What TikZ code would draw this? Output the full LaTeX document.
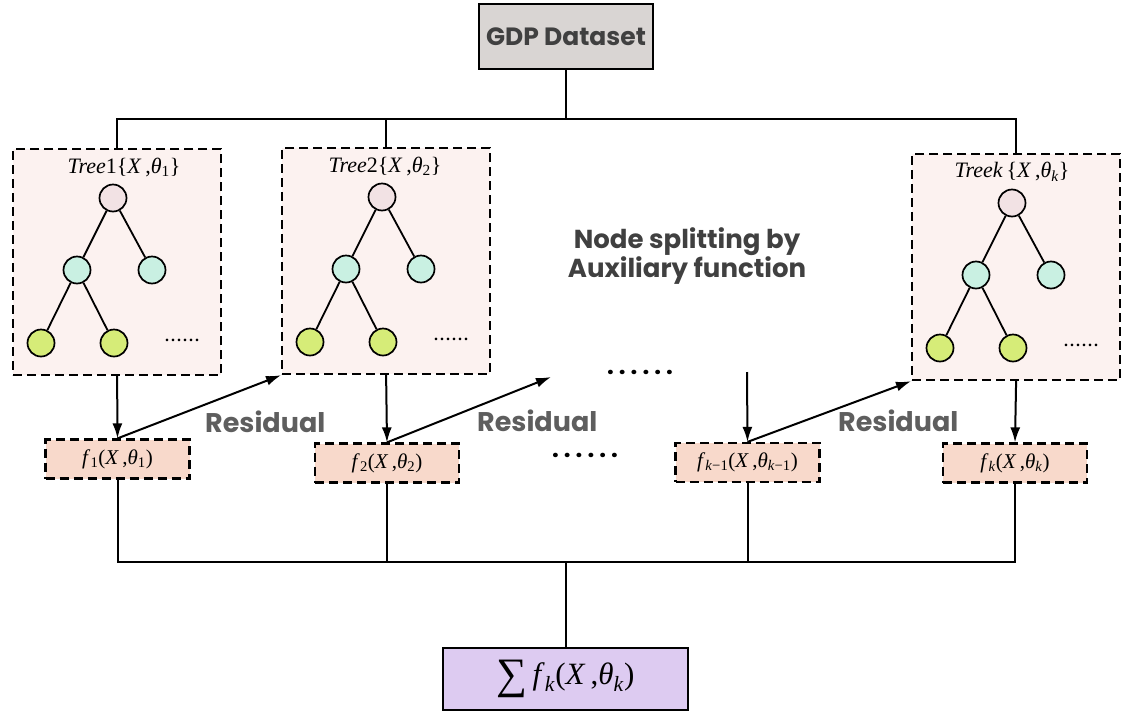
\documentclass[tikz,border=0pt]{standalone}
\usepackage{fontspec}
\setmainfont{Liberation Serif}
\newfontfamily\popfont{Poppins}
\usetikzlibrary{arrows.meta}

\definecolor{treefill}{HTML}{FCF2F0}
\definecolor{rootfill}{HTML}{F2E2E4}
\definecolor{midfill}{HTML}{C9F0E2}
\definecolor{leaffill}{HTML}{D6EC78}
\definecolor{ffill}{HTML}{F8D9CB}
\definecolor{sumfill}{HTML}{DDCBF1}
\definecolor{gdpfill}{HTML}{D9D5D3}
\definecolor{labelgray}{HTML}{5E5E5E}
\definecolor{darkgray}{HTML}{404040}

% subscript in the serif font
\newcommand\lowidx[1]{\textsubscript{#1}}
% a row of six spaced dots
\newcommand\sixdots[1]{.\kern#1.\kern#1.\kern#1.\kern#1.\kern#1.}

\tikzset{
  treebox/.style={draw, dash pattern=on 9pt off 5pt, line width=2.2pt,
    fill=treefill, minimum width=208pt, minimum height=226pt,
    inner sep=0pt, anchor=north west},
  fbox/.style={draw, dash pattern=on 9pt off 5pt, line width=2.2pt,
    fill=ffill, minimum width=144pt, minimum height=39pt, inner sep=0pt,
    font=\fontsize{21}{22}\selectfont},
  solidbox/.style={draw, line width=2pt, inner sep=0pt},
  tn/.style={circle, draw, line width=1.7pt, minimum size=27pt, inner sep=0pt},
  edge/.style={line width=1.8pt},
  link/.style={line width=2pt},
  arr/.style={line width=2pt, -{Latex[length=15pt,width=10pt]}},
  treetitle/.style={font=\fontsize{22}{23}\selectfont},
  resid/.style={font=\popfont\bfseries\fontsize{27}{28}\selectfont,
    text=labelgray, anchor=base west, inner sep=0pt},
  dotrow/.style={font=\popfont\bfseries\fontsize{24}{24}\selectfont,
    inner sep=0pt},
}

% contents of one tree box: #1 prefix, #2 box name, #3 title x offset, #4 title
\newcommand\treecontent[4]{%
  \begin{scope}[shift={(#2.north west)}, name prefix=#1-]
    \node[treetitle] (title) at (#3,19) {#4};
    \node[tn, fill=rootfill] (root) at (101,50) {};
    \node[tn, fill=midfill]  (ml)   at (65,122) {};
    \node[tn, fill=midfill]  (mr)   at (140,122) {};
    \node[tn, fill=leaffill] (ll)   at (29,195) {};
    \node[tn, fill=leaffill] (lr)   at (102,195) {};
    \node[font=\bfseries\fontsize{16}{16}\selectfont, inner sep=0pt] (more) at (170,192) {\sixdots{2pt}};
    \draw[edge] (root) -- (ml);
    \draw[edge] (root) -- (mr);
    \draw[edge] (ml) -- (ll);
    \draw[edge] (ml) -- (lr);
  \end{scope}}

\begin{document}
\begin{tikzpicture}[x=1pt, y=-1pt]
  \useasboundingbox (0,0) rectangle (1121,715);

  % data source
  \node[solidbox, fill=gdpfill, minimum width=174pt, minimum height=65pt,
    font=\popfont\bfseries\fontsize{25}{26}\selectfont, text=darkgray]
    (gdp) at (566,36.5) {GDP Dataset};

  % tree boxes
  \node[treebox] (t1) at (12,148) {};
  \node[treebox] (t2) at (281,147) {};
  \node[treebox] (tk) at (911,153) {};
  \treecontent{a}{t1}{112}{\textit{Tree}1\{\textit{X}\,,\textit{θ}\lowidx{1}\}}
  \treecontent{b}{t2}{104}{\textit{Tree}2\{\textit{X}\,,\textit{θ}\lowidx{2}\}}
  \treecontent{c}{tk}{101}{\textit{Treek}\,\{\textit{X}\,,\textit{θ}\lowidx{\textit{k}}\}}

  % distribution bus
  \coordinate (topbus) at (0,119);
  \draw[link] (gdp.south) -- (gdp.south |- topbus);
  \draw[link] (t1.north) -- (t1.north |- topbus) -- (tk.north |- topbus) -- (tk.north);
  \draw[link] (t2.north) -- (t2.north |- topbus);

  % middle caption
  \node[font=\popfont\bfseries\fontsize{26}{26}\selectfont, text=darkgray,
    align=center] (split) at (687,256) {Node splitting by\\Auxiliary function};

  % weak learners
  \node[fbox] (f1) at (117.5,459) {\textit{f}\lowidx{1}(\textit{X}\,,\textit{θ}\lowidx{1})};
  \node[fbox] (f2) at (387,463) {\textit{f}\lowidx{2}(\textit{X}\,,\textit{θ}\lowidx{2})};
  \node[fbox] (fk1) at (747.5,462.5) {\textit{f}\lowidx{\textit{k}−1}(\textit{X}\,,\textit{θ}\lowidx{\textit{k}−1})};
  \node[fbox] (fk) at (1015,463) {\textit{f}\lowidx{\textit{k}}(\textit{X}\,,\textit{θ}\lowidx{\textit{k}})};

  % ellipsis rows
  \node[dotrow] (dotsup) at (640,372) {\sixdots{5pt}};
  \node[dotrow] (dotsmid) at (585,455) {\sixdots{5pt}};

  % tree outputs and residual links
  \coordinate (resend) at (551,377);
  \coordinate (kin) at (747,372);
  \draw[arr] (t1.south) -- (f1.north);
  \draw[arr] (f1.north) -- (t2.south west);
  \draw[arr] (t2.south) -- (f2.north);
  \draw[arr] (f2.north) -- (resend);
  \draw[arr] (kin) -- (fk1.north);
  \draw[arr] (fk1.north) -- (tk.south west);
  \draw[arr] (tk.south) -- (fk.north);

  \node[resid] (r1) at (205,432) {Residual};
  \node[resid] (r2) at (477,431) {Residual};
  \node[resid] (r3) at (838,431) {Residual};

  % ensemble sum
  \node[solidbox, fill=sumfill, minimum width=245pt, minimum height=62pt,
    font=\fontsize{31}{32}\selectfont]
    (sum) at (565.5,679) {\raisebox{-4pt}{\scalebox{1.4}{∑}}\,\textit{f}\lowidx{\textit{k}}(\textit{X}\,,\textit{θ}\lowidx{\textit{k}})};

  \coordinate (botbus) at (0,562);
  \draw[link] (f1.south) -- (f1.south |- botbus) -- (fk.south |- botbus) -- (fk.south);
  \draw[link] (f2.south) -- (f2.south |- botbus);
  \draw[link] (fk1.south) -- (fk1.south |- botbus);
  \draw[link] (sum.north) -- (sum.north |- botbus);
\end{tikzpicture}
\end{document}
